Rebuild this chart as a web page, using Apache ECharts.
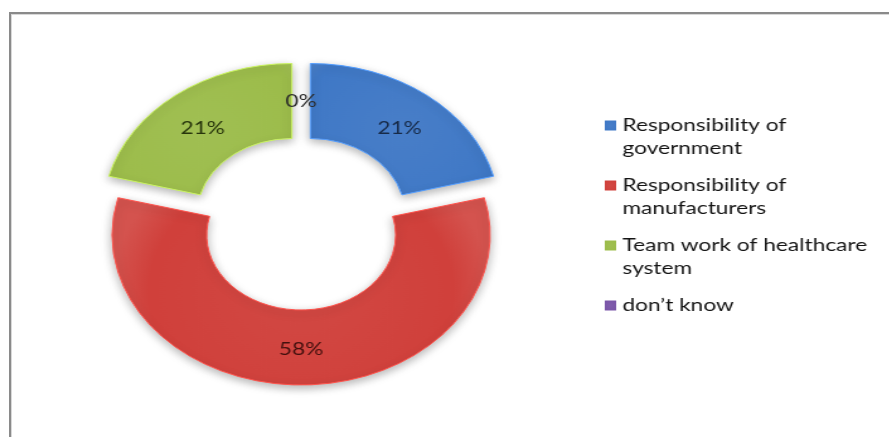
<!DOCTYPE html>
<html>
<head>
<meta charset="utf-8">
<script src="https://cdn.jsdelivr.net/npm/echarts@6/dist/echarts.min.js"></script>
<style>
  html, body { margin: 0; padding: 0; background: #fff; width: 889px; height: 437px; overflow: hidden; }
  #frame { position: absolute; left: 9px; top: 12px; width: 900px; height: 440px;
           border-left: 2px solid #8a8a8a; border-top: 2px solid #8a8a8a; box-shadow: inset 1px 1px 0 #d8d8d8; }
  /* the plot is laid out at 706px wide and stretched to the full width */
  #chart { position: absolute; left: 0; top: 0; width: 706px; height: 437px;
           transform: scaleX(1.26); transform-origin: 0 0; }
</style>
</head>
<body>
<div id="frame"></div>
<div id="chart"></div>
<script>
// Share of answers, in percent
const categories = [
  'Responsibility of\ngovernment',
  'Responsibility of\nmanufacturers',
  'Team work of healthcare\nsystem',
  'don\u2019t know'
];
const shares = [21, 58, 21, 0];
const sliceColors = ['#3f78c6', '#d0403b', '#9cbc4a', '#7a55a8'];
const labelColors = ['#172a47', '#43100e', '#27350c', '#2a2a2a'];

const chart = echarts.init(document.getElementById('chart'), null, { renderer: 'canvas' });

const pieData = categories.map((name, i) => {
  const empty = shares[i] === 0;
  return {
    name: name,
    value: shares[i],
    selected: true,
    itemStyle: {
      color: new echarts.graphic.RadialGradient(0.5, 0.5, 0.8, [
        { offset: 0, color: echarts.color.lift(sliceColors[i], 0.05) },
        { offset: 0.8, color: sliceColors[i] },
        { offset: 1, color: echarts.color.lift(sliceColors[i], 0.1) }
      ]),
      borderColor: echarts.color.lift(sliceColors[i], -0.3),
      borderWidth: empty ? 0 : 1,
      shadowBlur: empty ? 0 : 8
    },
    label: { color: labelColors[i] }
  };
});

chart.setOption({
  animation: false,
  legend: {
    orient: 'vertical',
    left: 480,
    top: 91,
    padding: 0,
    itemGap: -9,
    itemWidth: 9,
    itemHeight: 10,
    icon: 'rect',
    selectedMode: false,
    data: categories,
    // every entry is padded to three lines so the icon lines up with the first text line
    formatter: (name) => '\n' + name + (name.indexOf('\n') >= 0 ? '' : '\n '),
    itemStyle: { borderWidth: 0 },
    textStyle: {
      fontFamily: 'Lato',
      fontSize: 18,
      lineHeight: 23,
      color: '#141414'
    }
  },
  series: [{
    type: 'pie',
    center: [239, 223],
    radius: [75, 150],
    startAngle: 90,
    clockwise: true,
    selectedMode: 'multiple',
    selectedOffset: 12,
    avoidLabelOverlap: false,
    itemStyle: {
      shadowOffsetY: 3,
      shadowColor: 'rgba(0,0,0,0.3)'
    },
    label: {
      show: true,
      position: 'inside',
      formatter: '{c}%',
      fontFamily: 'Lato',
      fontSize: 18
    },
    // upper labels sit a little lower in the ring
    labelLayout: (params) => ({ dy: params.dataIndex === 1 ? -1 : 6 }),
    labelLine: { show: false },
    emphasis: { disabled: true },
    data: pieData
  }]
});
</script>
</body>
</html>
